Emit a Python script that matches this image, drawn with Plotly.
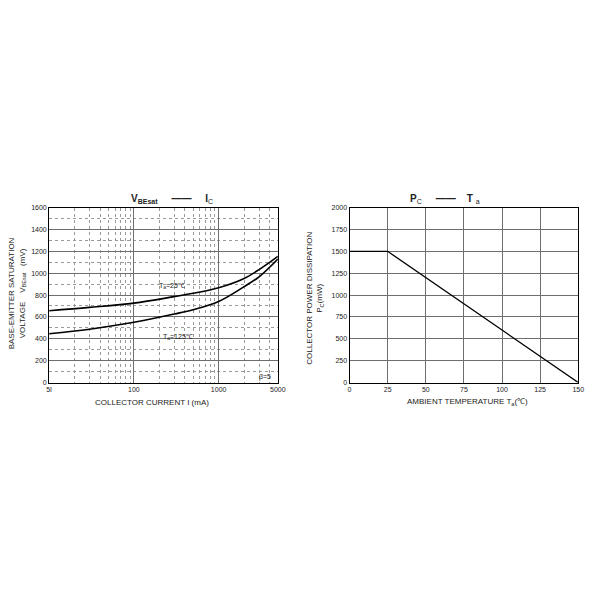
import plotly.graph_objects as go

# Left chart data: V_BEsat vs I_C
ic_ma = [10, 30, 100, 300, 500, 1000, 2000, 3000, 5000]
vbe_25 = [657, 687, 726, 786, 816, 867, 952, 1033, 1154]
vbe_125 = [446, 488, 551, 627, 666, 741, 877, 967, 1130]
x_tickvals = [10, 100, 1000, 5000]
x_ticktext = ["5I", "100", "1000", "5000"]
y1_ticks = [0, 200, 400, 600, 800, 1000, 1200, 1400, 1600]

# Right chart data: P_C vs T_a
ta = [0, 25, 150]
pc = [1500, 1500, 0]
x2_ticks = [0, 25, 50, 75, 100, 125, 150]
y2_ticks = [0, 250, 500, 750, 1000, 1250, 1500, 1750, 2000]

W = H = 600
def px(x): return x / W
def py(y): return 1 - y / H

FONT = "Liberation Sans, Arial, sans-serif"
GRID = "#6e6e6e"
MINOR = "#9a9a9a"
NB = "\u00a0"

fig = go.Figure()
fig.add_trace(go.Scatter(x=ic_ma, y=vbe_25, mode="lines", line=dict(color="black", width=1.6, shape="spline"),
                         xaxis="x", yaxis="y", showlegend=False))
fig.add_trace(go.Scatter(x=ic_ma, y=vbe_125, mode="lines", line=dict(color="black", width=1.6, shape="spline"),
                         xaxis="x", yaxis="y", showlegend=False))
fig.add_trace(go.Scatter(x=ta, y=pc, mode="lines", line=dict(color="black", width=1.3),
                         xaxis="x2", yaxis="y2", showlegend=False))

minor_x = [v * m for m in (10, 100, 1000) for v in range(2, 10)]
minor_x = [v for v in minor_x if v < 5000]

tickfont = dict(family=FONT, size=7, color="#222")
fig.update_layout(
    width=W, height=H, margin=dict(l=0, r=0, t=0, b=0),
    paper_bgcolor="white", plot_bgcolor="white",
    xaxis=dict(domain=[px(47), px(280)], type="log", range=[1, 3.699],
               tickvals=x_tickvals, ticktext=x_ticktext, tickfont=tickfont,
               showgrid=True, gridcolor=GRID, gridwidth=1.2,
               showline=True, linecolor="black", linewidth=1, mirror=True,
               ticks="", zeroline=False,
               minor=dict(tickvals=minor_x, showgrid=True, gridcolor=MINOR, griddash="dot", gridwidth=1)),
    yaxis=dict(domain=[py(383), py(206)], range=[0, 1600], tickvals=y1_ticks, tickfont=tickfont,
               showgrid=True, gridcolor=GRID, gridwidth=1.2,
               showline=True, linecolor="black", linewidth=1, mirror=True,
               ticks="", zeroline=False,
               minor=dict(dtick=100, showgrid=True, gridcolor=MINOR, griddash="dot", gridwidth=1)),
    xaxis2=dict(domain=[px(353), px(586)], range=[0, 150], tickvals=x2_ticks, tickfont=tickfont,
                anchor="y2", showgrid=True, gridcolor=GRID, gridwidth=1.2,
                showline=True, linecolor="black", linewidth=1, mirror=True,
                ticks="", zeroline=False),
    yaxis2=dict(domain=[py(383), py(206)], range=[0, 2000], tickvals=y2_ticks, tickfont=tickfont,
                anchor="x2", showgrid=True, gridcolor=GRID, gridwidth=1.2,
                showline=True, linecolor="black", linewidth=1, mirror=True,
                ticks="", zeroline=False),
)

ann = []
def A(text, x, y, size=8, angle=0, **kw):
    ann.append(dict(text=text, x=px(x), y=py(y), xref="paper", yref="paper", showarrow=False,
                    xanchor="center", yanchor="middle",
                    textangle=angle, font=dict(family=FONT, size=size, color="#222"), **kw))

# Titles
A(f"<b>V</b><sub><b>BEsat</b></sub>{NB*5}<b>——</b>{NB*5}<b>I</b><sub>C</sub>", 172, 197, size=10)
A(f"<b>P</b><sub>C</sub>{NB*5}<b>——</b>{NB*4}<b>T</b>{NB}<sub>a</sub>", 450, 197, size=10)
# Axis titles
A("COLLECTOR CURRENT I (mA)", 152, 403, size=8)
A("AMBIENT TEMPERATURE T<sub>a</sub>(℃)", 473, 403, size=8)
A(f"BASE-EMITTER SATURATION<br>VOLTAGE{NB*4}V<sub>BEsat</sub>{NB*3}(mV)", 14, 293, size=8, angle=-90)
A("COLLECTOR POWER DISSIPATION<br>P<sub>C</sub>(mW)", 317, 298, size=8, angle=-90)
# Curve labels
A("T<sub>a</sub>=25℃", 172, 285, size=7)
A("T<sub>a</sub>=125℃", 178, 337, size=7)
A("β=5", 267, 377, size=7)

fig.update_layout(annotations=ann)
fig.write_html("out.html", config={"displayModeBar": False},
               post_script="document.body.style.margin='0px';")
